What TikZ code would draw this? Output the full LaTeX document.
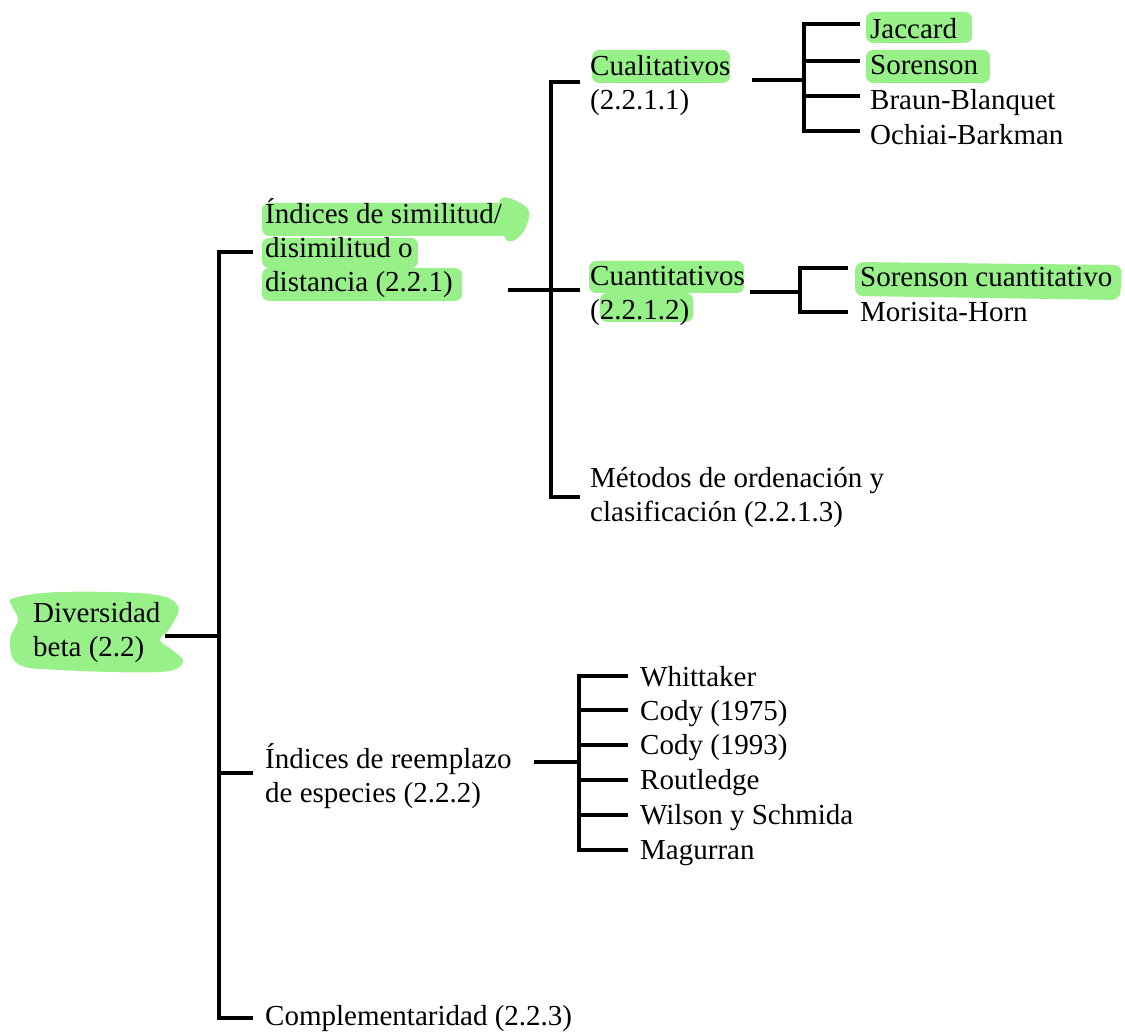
\documentclass[tikz,border=0pt]{standalone}
\usepackage{fontspec}
\setmainfont{Liberation Serif}
\definecolor{hl}{RGB}{152,240,136}
\begin{document}
\begin{tikzpicture}[x=1pt,y=-1pt,
  lbl/.style={anchor=base west, inner sep=0pt, align=left, font=\fontsize{29}{34}\selectfont},
  br/.style={line width=3.5pt, line cap=butt, line join=miter},
  hlbox/.style={fill=hl, rounded corners=7pt}]
\useasboundingbox (0,0) rectangle (1125,1032);
% highlights
\fill[hl] plot[smooth cycle, tension=0.6] coordinates {(14,598) (60,592) (150,594) (178,606) (170,628) (160,640) (172,650) (183,662) (160,672) (60,670) (18,664) (10,640) (18,620) (12,606)};
\fill[hlbox] (262,203) rectangle (510,236);
\fill[hl] plot[smooth cycle, tension=0.7] coordinates {(500,200) (522,204) (529,216) (520,236) (505,238)};
\fill[hlbox] (262,238) rectangle (418,268);
\fill[hlbox] (262,268) rectangle (462,301);
\fill[hlbox] (592,50) rectangle (730,83);
\fill[hlbox] (866,12) rectangle (972,43);
\fill[hlbox] (866,50) rectangle (990,83);
\fill[hlbox] (589,261) rectangle (744,293);
\fill[hlbox] (600,293) rectangle (693,322);
\fill[hl, rounded corners=8pt] (855,262) -- (1122,265) -- (1120,300) -- (855,296) -- cycle;
% labels (base = baseline of last line)
\node[lbl] (div) at (33,656) {Diversidad\\beta (2.2)};
\node[lbl] (sim) at (265,292) {Índices de similitud/\\disimilitud o\\distancia (2.2.1)};
\node[lbl] (reem) at (265,802) {Índices de reemplazo\\de especies (2.2.2)};
\node[lbl] (comp) at (265,1025) {Complementaridad (2.2.3)};
\node[lbl] (cual) at (590,110) {Cualitativos\\(2.2.1.1)};
\node[lbl] (cuan) at (590,320) {Cuantitativos\\(2.2.1.2)};
\node[lbl] (met) at (590,521) {Métodos de ordenación y\\clasificación (2.2.1.3)};
\node[lbl] (jac) at (870,39) {Jaccard};
\node[lbl] (sor) at (870,75) {Sorenson};
\node[lbl] (bb) at (870,110) {Braun-Blanquet};
\node[lbl] (ob) at (870,145) {Ochiai-Barkman};
\node[lbl] (sc) at (860,287) {Sorenson cuantitativo};
\node[lbl] (mh) at (860,322) {Morisita-Horn};
\node[lbl] (wh) at (640,686) {Whittaker};
\node[lbl] (c75) at (640,720) {Cody (1975)};
\node[lbl] (c93) at (640,754) {Cody (1993)};
\node[lbl] (rou) at (640,789) {Routledge};
\node[lbl] (wil) at (640,824) {Wilson y Schmida};
\node[lbl] (mag) at (640,859) {Magurran};
% junction coordinates
\coordinate (t0) at (165,636);
\coordinate (j0) at (219,636);
\coordinate (t1) at (508,290);
\coordinate (j1) at (551,290);
\coordinate (t2) at (752,80);
\coordinate (j2) at (804,80);
\coordinate (t3) at (750,292);
\coordinate (j3) at (800,292);
\coordinate (t4) at (534,762);
\coordinate (j4) at (579,762);
% connectors
\draw[br] (t0) -- (j0);
\draw[br] (253,252) -- (219,252) -- (219,1018) -- (253,1018);
\draw[br] (219,773) -- (253,773);
\draw[br] (t1) -- (580,290);
\draw[br] (580,82) -- (551,82) -- (551,497) -- (580,497);
\draw[br] (t2) -- (j2);
\draw[br] (860,24) -- (804,24) -- (804,131) -- (860,131);
\draw[br] (804,61) -- (860,61);
\draw[br] (804,96) -- (860,96);
\draw[br] (t3) -- (j3);
\draw[br] (848,268) -- (800,268) -- (800,312) -- (848,312);
\draw[br] (t4) -- (j4);
\draw[br] (628,676) -- (579,676) -- (579,850) -- (628,850);
\foreach \yy in {710,745,780,815} \draw[br] (579,\yy) -- (628,\yy);
\end{tikzpicture}
\end{document}
